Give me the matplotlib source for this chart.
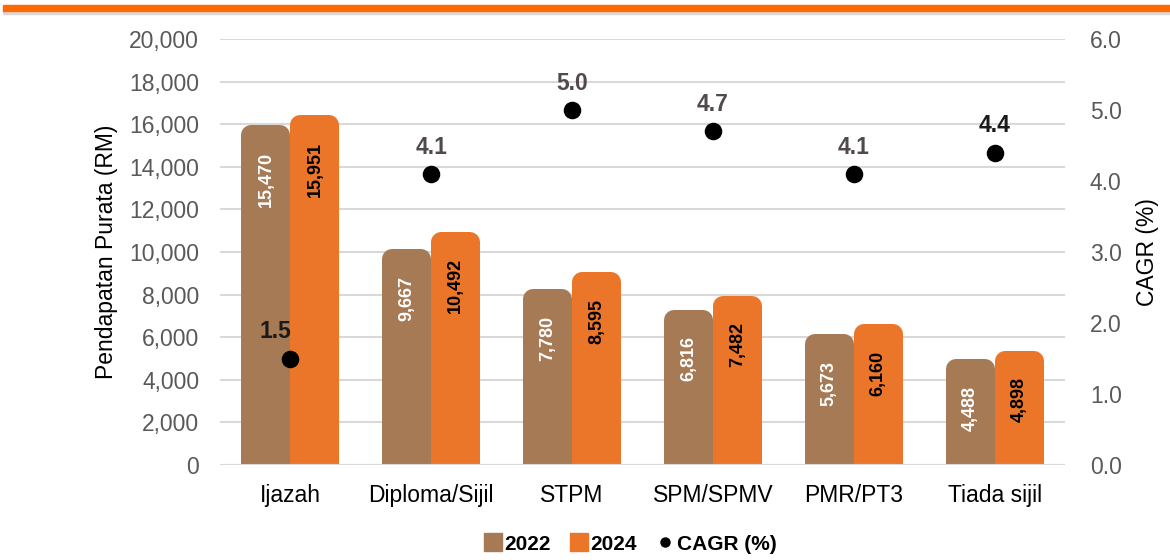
import matplotlib
matplotlib.use('Agg')

import matplotlib.pyplot as plt
import numpy as np
from matplotlib.lines import Line2D
from matplotlib.patches import Rectangle

plt.rcParams['font.family'] = ['Liberation Sans', 'DejaVu Sans']

# Data
categories = ['Ijazah', 'Diploma/Sijil', 'STPM', 'SPM/SPMV', 'PMR/PT3', 'Tiada sijil']
income_2022 = [15470, 9667, 7780, 6816, 5673, 4488]
income_2024 = [15951, 10492, 8595, 7482, 6160, 4898]
cagr = [1.5, 4.1, 5.0, 4.7, 4.1, 4.4]

c2022 = '#A57A55'
c2024 = '#EB7629'
tick_grey = '#595959'

fig = plt.figure(figsize=(11.7, 5.6), dpi=100)
ax = fig.add_axes([220 / 1170, 95 / 560, 845 / 1170, 426 / 560])

x = np.arange(len(categories))
off = 0.174
w = 0.206
edge = 14.4  # thick same-colour edge gives the rounded look

ax.bar(x - off, income_2022, width=w, color=c2022, edgecolor=c2022,
       linewidth=edge, joinstyle='round', zorder=2)
ax.bar(x + off, income_2024, width=w, color=c2024, edgecolor=c2024,
       linewidth=edge, joinstyle='round', zorder=2)

# value labels inside bars
for i in range(len(categories)):
    ax.annotate(f'{income_2022[i]:,}', (x[i] - off, income_2022[i]), xytext=(0, -12),
                textcoords='offset points', rotation=90, ha='center', va='top',
                fontsize=13, fontweight='bold', color='white', zorder=5)
    ax.annotate(f'{income_2024[i]:,}', (x[i] + off, income_2024[i]), xytext=(0, -12),
                textcoords='offset points', rotation=90, ha='center', va='top',
                fontsize=13, fontweight='bold', color='black', zorder=5)

ax.set_xlim(-0.5, len(categories) - 0.5)
ax.set_ylim(0, 20000)
ax.set_yticks(np.arange(0, 20001, 2000))
ax.set_yticklabels([f'{v:,}' for v in range(0, 20001, 2000)])
ax.set_xticks(x)
ax.set_xticklabels(categories)
ax.set_axisbelow(True)
ax.yaxis.grid(True, color='#D9D9D9', linewidth=1.5)
ax.axhline(0, color='#D9D9D9', linewidth=1.5, zorder=3)
ax.tick_params(axis='y', length=0, pad=15, labelsize=16.5, labelcolor=tick_grey)
ax.tick_params(axis='x', length=0, pad=14, labelsize=16.5, labelcolor='black')
ax.set_ylabel('Pendapatan Purata (RM)', fontsize=16.5, labelpad=8)
for s in ax.spines.values():
    s.set_visible(False)

# CAGR on secondary axis
ax2 = ax.twinx()
ax2.set_ylim(0, 6)
ax2.set_yticks(np.arange(0, 7, 1))
ax2.set_yticklabels([f'{v:.1f}' for v in range(0, 7)])
ax2.tick_params(axis='y', length=0, pad=18, labelsize=16.5, labelcolor=tick_grey)
ax2.set_ylabel('CAGR (%)', fontsize=16.5, labelpad=10)
for s in ax2.spines.values():
    s.set_visible(False)
ax2.scatter(x, cagr, s=135, color='black', zorder=5)

label_colors = ['#1a1a1a', '#524a4a', '#524a4a', '#524a4a', '#524a4a', '#1a1a1a']
for i, v in enumerate(cagr):
    dx = -11 if i == 0 else 0
    ax2.annotate(f'{v:.1f}', (x[i], v), xytext=(dx, 14.5), textcoords='offset points',
                 ha='center', va='baseline', fontsize=16.5, fontweight='bold',
                 color=label_colors[i])

# legend
handles = [Line2D([0], [0], marker='s', ls='', ms=12.5, color=c2022),
           Line2D([0], [0], marker='s', ls='', ms=12.5, color=c2024),
           Line2D([0], [0], marker='o', ls='', ms=6.5, color='black')]
fig.legend(handles, ['2022', '2024', 'CAGR (%)'], loc='center',
           bbox_to_anchor=(630 / 1170, 16 / 560), ncol=3, frameon=False,
           prop={'weight': 'bold', 'size': 15}, handlelength=0.9,
           handletextpad=0.1, columnspacing=0.9)

# orange band across the top with a soft shadow
fig.patches.append(Rectangle((3 / 1170, 1 - 14 / 560), 1, 3 / 560, transform=fig.transFigure,
                             color='#C8C8C8', alpha=0.6, zorder=0))
fig.patches.append(Rectangle((3 / 1170, 1 - 11 / 560), 1, 6 / 560, transform=fig.transFigure,
                             color='#FF6A00', zorder=1))

fig.savefig('out.png', dpi=100)
